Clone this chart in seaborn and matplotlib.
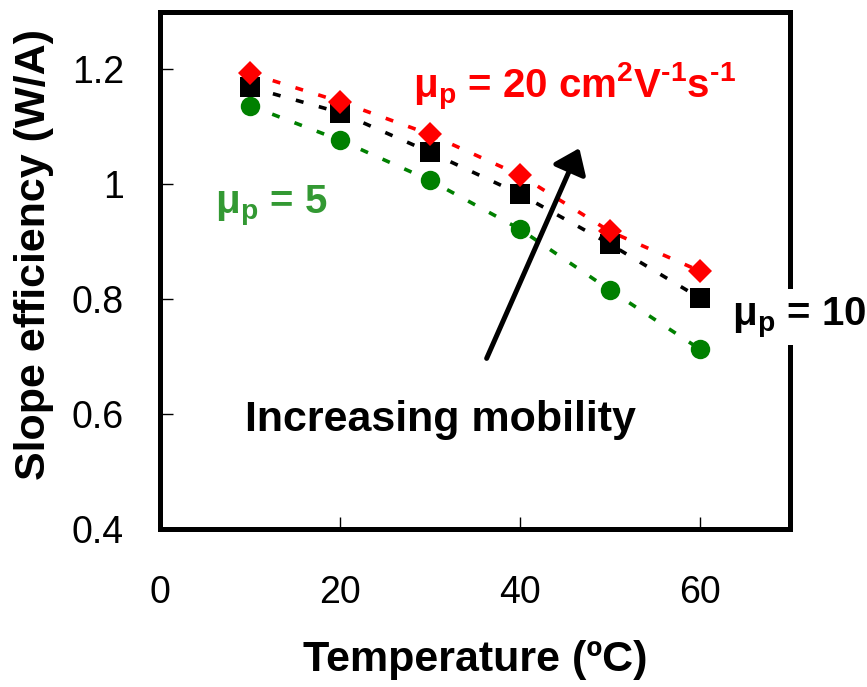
import matplotlib
matplotlib.use("Agg")
import matplotlib.pyplot as plt
import seaborn as sns
import numpy as np

temps = [10, 20, 30, 40, 50, 60]
mu20 = [1.193, 1.144, 1.087, 1.016, 0.918, 0.849]
mu10 = [1.169, 1.125, 1.056, 0.983, 0.896, 0.802]
mu5 = [1.137, 1.077, 1.007, 0.922, 0.816, 0.713]
xticks = [0, 20, 40, 60]
yticks = [0.4, 0.6, 0.8, 1.0, 1.2]
ytick_labels = ["0.4", "0.6", "0.8", "1", "1.2"]

sns.set_theme(style="white")
plt.rcParams['font.family'] = ['Liberation Sans', 'DejaVu Sans']
plt.rcParams['mathtext.fontset'] = 'custom'
plt.rcParams['mathtext.rm'] = 'Liberation Sans:bold'
plt.rcParams['mathtext.default'] = 'regular'
plt.rcParams['text.color'] = 'black'
plt.rcParams['axes.labelcolor'] = 'black'

fig = plt.figure(figsize=(8.67, 6.87), dpi=100)
ax = fig.add_axes([0.1845, 0.23, 0.7266, 0.7525])

dash = (0, (2.2, 4.4))
series = [(mu5, "#008000", "o", 14), (mu10, "black", "s", 14), (mu20, "#ff0000", "D", 12.5)]
for vals, col, mk, ms in series:
    sns.lineplot(x=temps, y=vals, ax=ax, color=col, linewidth=2.6, linestyle=dash, zorder=2)
for vals, col, mk, ms in series:
    sns.lineplot(x=temps, y=vals, ax=ax, color=col, linewidth=0, marker=mk,
                 markersize=ms, markeredgewidth=0, zorder=3)

ax.set_xlim(0, 70)
ax.set_ylim(0.4, 1.3)
ax.set_xticks(xticks)
ax.set_xticklabels([str(t) for t in xticks])
ax.set_yticks(yticks)
ax.set_yticklabels(ytick_labels)
for s in ax.spines.values():
    s.set_visible(True)
    s.set_linewidth(3.6)
    s.set_color("black")
ax.tick_params(axis='both', direction='in', length=9, width=1.0, colors='black',
               labelsize=27, labelcolor='black')
ax.tick_params(axis='x', pad=33, bottom=True)
ax.tick_params(axis='y', pad=26, left=True)
ax.grid(False)

ax.set_xlabel("Temperature (ºC)", fontsize=31, fontweight='bold', color='black')
ax.xaxis.set_label_coords(0.5, -0.215)
ax.set_ylabel("Slope efficiency (W/A)", fontsize=31, fontweight='bold', color='black')
ax.yaxis.set_label_coords(-0.168, 0.53)

ax.text(28.1, 1.1496, r"μ$_{p}$ = 20 cm$^{2}$V$^{\text{-1}}$s$^{\text{-1}}$", color="#ff0000",
        fontsize=29, fontweight='bold', va='baseline', ha='left')
ax.text(6.1, 0.950, "μ$_{p}$ = 5", color="#339933",
        fontsize=29, fontweight='bold', va='baseline', ha='left')
ax.text(63.6, 0.755, "μ$_{p}$ = 10", color="black",
        fontsize=29, fontweight='bold', va='baseline', ha='left', clip_on=False,
        zorder=5, bbox=dict(facecolor='white', edgecolor='none', pad=4))
ax.text(9.44, 0.5704, "Increasing mobility", color="black",
        fontsize=31, fontweight='bold', va='baseline', ha='left')

ax.annotate("", xy=(46.6, 1.063), xytext=(36.3, 0.697),
            arrowprops=dict(arrowstyle="-|>,head_length=1.2,head_width=0.9",
                            color="black", lw=3.6, shrinkA=0, shrinkB=0))

fig.savefig("out.png", dpi=100)
